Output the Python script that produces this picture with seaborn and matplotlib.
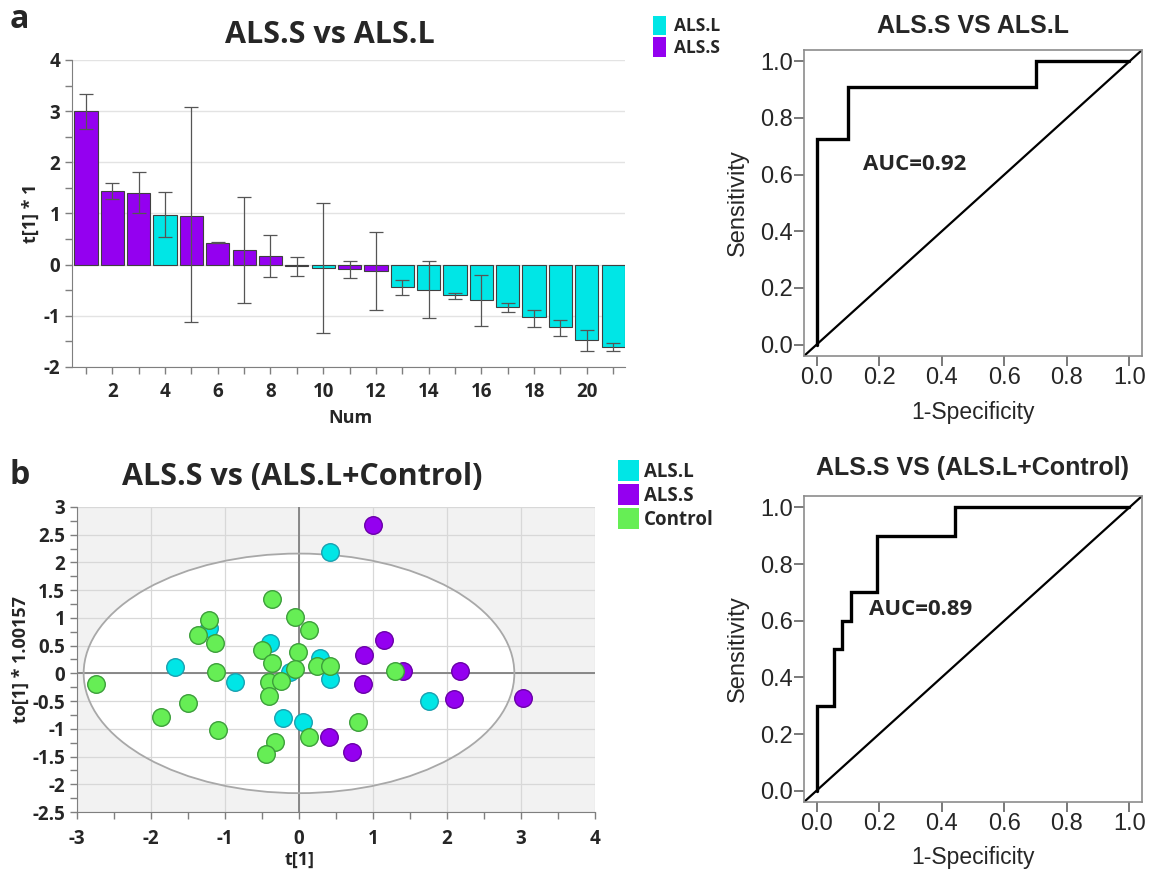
import numpy as np
import pandas as pd
import matplotlib
matplotlib.use("Agg")
import matplotlib.pyplot as plt
import seaborn as sns
from matplotlib.patches import Ellipse, Patch
from matplotlib.ticker import MultipleLocator, FuncFormatter

# ---------------- data ----------------
bar_num = list(range(1, 22))
bar_group = ["ALS.S", "ALS.S", "ALS.S", "ALS.L", "ALS.S", "ALS.S", "ALS.S", "ALS.S",
             "ALS.S", "ALS.L", "ALS.S", "ALS.S"] + ["ALS.L"] * 9
bar_value = [3.0, 1.43, 1.4, 0.98, 0.96, 0.43, 0.28, 0.16, -0.03, -0.06, -0.08, -0.13,
             -0.43, -0.49, -0.6, -0.69, -0.82, -1.03, -1.21, -1.47, -1.6]
err_low = [2.66, 1.28, 1.0, 0.55, -1.13, 0.42, -0.74, -0.25, -0.23, -1.34, -0.26, -0.89,
           -0.59, -1.05, -0.67, -1.19, -0.93, -1.21, -1.39, -1.68, -1.68]
err_high = [3.33, 1.6, 1.82, 1.42, 3.08, 0.45, 1.32, 0.58, 0.15, 1.21, 0.08, 0.63,
            -0.3, 0.07, -0.55, -0.21, -0.75, -0.89, -1.08, -1.27, -1.53]

alsl_t = [0.42, -1.67, -0.87, -0.39, -1.22, -0.12, -0.22, 0.06, 0.28, 0.42, 1.76]
alsl_to = [2.18, 0.12, -0.16, 0.55, 0.81, 0.03, -0.80, -0.87, 0.27, -0.10, -0.49]
alss_t = [1.00, 1.15, 0.88, 1.41, 2.18, 0.87, 2.09, 3.03, 0.40, 0.72]
alss_to = [2.67, 0.61, 0.34, 0.04, 0.04, -0.20, -0.47, -0.44, -1.14, -1.41]
ctrl_t = [-2.75, -1.87, -1.50, -1.09, -1.36, -1.21, -1.13, -1.12, -0.37, -0.06, 0.13,
          -0.50, -0.36, -0.01, -0.06, 0.24, -0.40, -0.25, -0.40, -0.32, -0.45, 0.14,
          0.42, 1.30, 0.80]
ctrl_to = [-0.20, -0.78, -0.54, -1.02, 0.70, 0.96, 0.55, 0.02, 1.34, 1.02, 0.78,
           0.43, 0.19, 0.38, 0.08, 0.13, -0.16, -0.14, -0.41, -1.24, -1.45, -1.15,
           0.13, 0.04, -0.87]

roc1_fpr = [0.0, 0.0, 0.1, 0.1, 0.7, 0.7, 1.0]
roc1_tpr = [0.0, 0.727, 0.727, 0.909, 0.909, 1.0, 1.0]
roc2_fpr = [0.0, 0.0, 0.056, 0.056, 0.083, 0.083, 0.111, 0.111, 0.194, 0.194, 0.444, 0.444, 1.0]
roc2_tpr = [0.0, 0.3, 0.3, 0.5, 0.5, 0.6, 0.6, 0.7, 0.7, 0.9, 0.9, 1.0, 1.0]

groups = ["ALS.L", "ALS.S", "Control"]
palette = {"ALS.L": "#00E6E6", "ALS.S": "#9400F0", "Control": "#66EE55"}
edges = {"ALS.L": "#1AA0B0", "ALS.S": "#6A00A8", "Control": "#3C9E3A"}

# ---------------- figure ----------------
sns.set_style("white")
plt.rcParams["font.family"] = ["Open Sans", "DejaVu Sans"]
plt.rcParams["axes.unicode_minus"] = False
W, H = 1149, 872
fig = plt.figure(figsize=(W / 100, H / 100), dpi=100)


def px_axes(l, t, r, b):
    return fig.add_axes([l / W, 1 - b / H, (r - l) / W, (b - t) / H])


def place_labels(ax, l, t, r, b, xlab_xy, ylab_x):
    """Put axis labels (centered) at given figure-pixel positions."""
    w, h = r - l, b - t
    ax.xaxis.set_label_coords((xlab_xy[0] - l) / w, (b - xlab_xy[1]) / h)
    ax.xaxis.label.set_va("center")
    ax.yaxis.set_label_coords((ylab_x - l) / w, 0.5)
    ax.yaxis.label.set_va("center")


BOLD = dict(fontweight="bold", family=["Open Sans", "DejaVu Sans"])
ARIAL = ["Liberation Sans", "DejaVu Sans"]
GRAYSPINE = "#7f7f7f"
gfmt = FuncFormatter(lambda v, p: f"{v:g}")

# ---------- panel a: bar chart ----------
A1 = (72, 60, 625, 367)
ax1 = px_axes(*A1)
bar_df = pd.DataFrame({"Num": bar_num, "val": bar_value, "grp": bar_group})
sns.barplot(data=bar_df, x="Num", y="val", hue="grp", hue_order=["ALS.L", "ALS.S"],
            palette=palette, saturation=1, native_scale=True, dodge=False, width=0.88,
            errorbar=None, edgecolor="#404040", linewidth=0.8, legend=False, ax=ax1, zorder=2)
yerr = [np.array(bar_value) - np.array(err_low), np.array(err_high) - np.array(bar_value)]
ax1.errorbar(bar_num, bar_value, yerr=yerr, fmt="none", ecolor="#555555",
             elinewidth=0.9, capsize=5, capthick=0.9, zorder=3)
ax1.set_xlim(0.47, 21.45)
ax1.set_ylim(-2, 4)
ax1.xaxis.set_major_locator(MultipleLocator(2))
ax1.xaxis.set_minor_locator(MultipleLocator(1))
ax1.yaxis.set_major_locator(MultipleLocator(1))
ax1.yaxis.set_minor_locator(MultipleLocator(0.5))
ax1.set_xticks(range(2, 21, 2))
ax1.yaxis.set_major_formatter(gfmt)
ax1.grid(axis="y", which="major", color="#e3e3e3", linewidth=1.0, zorder=0)
ax1.set_axisbelow(True)
for s in ["top", "right"]:
    ax1.spines[s].set_visible(False)
for s in ["left", "bottom"]:
    ax1.spines[s].set_color(GRAYSPINE)
ax1.tick_params(axis="both", which="both", direction="out", color=GRAYSPINE,
                length=5, width=1, left=True, bottom=True)
ax1.tick_params(axis="x", which="major", pad=6)
for lab in ax1.get_xticklabels() + ax1.get_yticklabels():
    lab.set_fontweight("bold")
    lab.set_fontsize(13.5)
ax1.set_xlabel("Num", fontsize=13, **BOLD)
ax1.set_ylabel("t[1] * 1", fontsize=13, **BOLD)
place_labels(ax1, *A1, (350, 418), 31)
fig.text(330 / W, 1 - 35 / H, "ALS.S vs ALS.L", ha="center", va="center", fontsize=22, **BOLD)
fig.text(10 / W, 1 - 20 / H, "a", ha="left", va="center", fontsize=23, **BOLD)
fig.legend(handles=[Patch(facecolor=palette[g], edgecolor="none", label=g) for g in ["ALS.L", "ALS.S"]],
           loc="upper left", bbox_to_anchor=(644 / W, 1 - 7 / H), frameon=False,
           handlelength=0.75, handleheight=1.35, handletextpad=0.5, labelspacing=0.12,
           borderpad=0, prop={"weight": "bold", "size": 12.5, "family": "Open Sans"})

# ---------- panel b: score scatter ----------
A2 = (77, 507, 595, 812)
ax2 = px_axes(*A2)
ax2.set_facecolor("#f2f2f2")
ax2.add_patch(Ellipse((0, 0), 2 * 2.91, 2 * 2.16, facecolor="white", edgecolor="none", zorder=0.2))
ax2.add_patch(Ellipse((0, 0), 2 * 2.91, 2 * 2.16, facecolor="none", edgecolor="#a8a8a8",
                      linewidth=1.3, zorder=2))
ax2.set_xlim(-3, 4)
ax2.set_ylim(-2.5, 3)
ax2.xaxis.set_major_locator(MultipleLocator(1))
ax2.xaxis.set_minor_locator(MultipleLocator(0.5))
ax2.yaxis.set_major_locator(MultipleLocator(0.5))
ax2.yaxis.set_minor_locator(MultipleLocator(0.25))
ax2.xaxis.set_major_formatter(gfmt)
ax2.yaxis.set_major_formatter(gfmt)
ax2.grid(which="major", color="#d8d8d8", linewidth=0.9)
ax2.set_axisbelow(True)
ax2.axhline(0, color="#808080", linewidth=1.3, zorder=1.5)
ax2.axvline(0, color="#808080", linewidth=1.3, zorder=1.5)
sc_df = pd.DataFrame({
    "t": alsl_t + alss_t + ctrl_t,
    "to": alsl_to + alss_to + ctrl_to,
    "grp": ["ALS.L"] * len(alsl_t) + ["ALS.S"] * len(alss_t) + ["Control"] * len(ctrl_t),
})
for g in groups:
    sns.scatterplot(data=sc_df[sc_df["grp"] == g], x="t", y="to", color=palette[g],
                    edgecolor=edges[g], linewidth=1.0, s=160, legend=False, ax=ax2, zorder=3)
for s in ["top", "right"]:
    ax2.spines[s].set_visible(False)
for s in ["left", "bottom"]:
    ax2.spines[s].set_color(GRAYSPINE)
ax2.tick_params(axis="both", which="both", direction="out", color=GRAYSPINE,
                length=5, width=1, left=True, bottom=True)
ax2.tick_params(axis="x", which="major", pad=7)
for lab in ax2.get_xticklabels() + ax2.get_yticklabels():
    lab.set_fontweight("bold")
    lab.set_fontsize(13.5)
ax2.set_xlabel("t[1]", fontsize=13, **BOLD)
ax2.set_ylabel("to[1] * 1.00157", fontsize=13, **BOLD)
place_labels(ax2, *A2, (300, 860), 21)
fig.text(302 / W, 1 - 477 / H, "ALS.S vs (ALS.L+Control)", ha="center", va="center", fontsize=22, **BOLD)
fig.text(10 / W, 1 - 475 / H, "b", ha="left", va="center", fontsize=23, **BOLD)
fig.legend(handles=[Patch(facecolor=palette[g], edgecolor="none", label=g) for g in groups],
           loc="upper left", bbox_to_anchor=(609 / W, 1 - 451 / H), frameon=False,
           handlelength=1.1, handleheight=1.35, handletextpad=0.25, labelspacing=0.12,
           borderpad=0, prop={"weight": "bold", "size": 13.5, "family": "Open Sans"})


# ---------- ROC panels ----------
def roc_panel(box, fpr, tpr, title, auc_text, auc_xy, title_y, label_y):
    ax = px_axes(*box)
    ax.plot([-0.04, 1.04], [-0.04, 1.04], color="black", linewidth=1.6, zorder=2)
    ax.plot(fpr, tpr, color="black", linewidth=2.4, zorder=3, solid_joinstyle="miter")
    ax.set_xlim(-0.04, 1.04)
    ax.set_ylim(-0.04, 1.04)
    ticks = [0.0, 0.2, 0.4, 0.6, 0.8, 1.0]
    ax.set_xticks(ticks)
    ax.set_yticks(ticks)
    ax.set_xticklabels([f"{t:.1f}" for t in ticks], family=ARIAL, fontsize=17)
    ax.set_yticklabels([f"{t:.1f}" for t in ticks], family=ARIAL, fontsize=17)
    for s in ax.spines.values():
        s.set_color("#8c8c8c")
        s.set_linewidth(1.2)
    ax.tick_params(axis="both", direction="out", length=7, width=1.1, color="#555555",
                   left=True, bottom=True, pad=1)
    ax.set_xlabel("1-Specificity", family=ARIAL, fontsize=16.5)
    ax.set_ylabel("Sensitivity", family=ARIAL, fontsize=17)
    place_labels(ax, *box, (973, label_y), 738)
    ax.text(auc_xy[0], auc_xy[1], auc_text, ha="left", va="center", fontsize=16, **BOLD)
    fig.text(973 / W, 1 - title_y / H, title, ha="center", va="center",
             fontsize=18, fontweight="bold", family=ARIAL)
    return ax


ax3 = roc_panel((804, 50, 1142, 356), roc1_fpr, roc1_tpr, "ALS.S VS ALS.L",
                "AUC=0.92", (0.148, 0.635), 26, 412)
ax4 = roc_panel((804, 496, 1142, 802), roc2_fpr, roc2_tpr, "ALS.S VS (ALS.L+Control)",
                "AUC=0.89", (0.168, 0.638), 468, 857)

fig.savefig("out.png", dpi=100, facecolor="white")
